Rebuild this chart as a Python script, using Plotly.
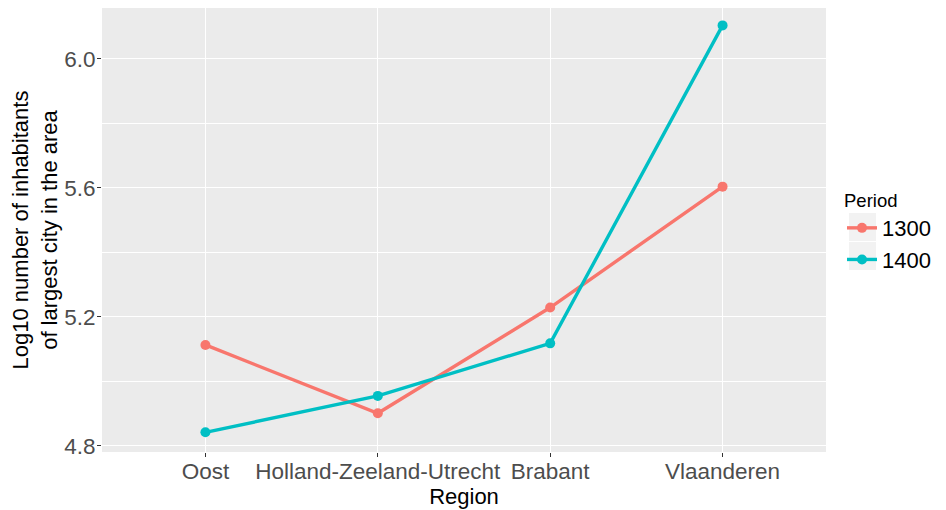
import plotly.graph_objects as go

regions = ["Oost", "Holland-Zeeland-Utrecht", "Brabant", "Vlaanderen"]
period_labels = ["1300", "1400"]
values_1300 = [5.113, 4.901, 5.229, 5.604]
values_1400 = [4.842, 4.955, 5.118, 6.104]
y_ticks = [4.8, 5.2, 5.6, 6.0]

colors = {"1300": "#F8766D", "1400": "#00BFC4"}
series = {"1300": values_1300, "1400": values_1400}

fig = go.Figure()
for p in period_labels:
    fig.add_trace(go.Scatter(
        x=regions, y=series[p], mode="lines+markers", name=p,
        line=dict(color=colors[p], width=3.4),
        marker=dict(color=colors[p], size=10),
    ))

font_family = "Liberation Sans, Arial, sans-serif"
W, H = 938, 502
L, R, T, B = 94, 120, 0, 58
pw, ph = W - L - R, H - T - B


def px_x(x):
    return (x - L) / pw


def px_y(y):
    return 1 - (y - T) / ph


# grey legend key backgrounds (ggplot style)
for y0, y1 in [(205, 233), (234, 262)]:
    fig.add_shape(type="rect", xref="paper", yref="paper",
                  x0=px_x(841), x1=px_x(868), y0=px_y(y1), y1=px_y(y0),
                  fillcolor="#F2F2F2", line=dict(width=0), layer="below")

fig.update_layout(
    width=W, height=H,
    margin=dict(l=L, r=R, t=T, b=B, autoexpand=False),
    paper_bgcolor="white",
    plot_bgcolor="#EBEBEB",
    font=dict(family=font_family, color="black"),
    showlegend=True,
    legend=dict(
        title=dict(text="Period", font=dict(size=18.5, color="black")),
        font=dict(size=22, color="black"),
        x=px_x(834), xanchor="left", y=px_y(175), yanchor="top",
        bgcolor="rgba(0,0,0,0)", itemwidth=30, tracegroupgap=0,
    ),
    xaxis=dict(
        type="category", categoryorder="array", categoryarray=regions,
        range=[-0.6, 3.6], automargin=False,
        showgrid=True, gridcolor="white", gridwidth=1.2,
        zeroline=False, showline=False,
        ticks="outside", ticklen=4, tickcolor="#333333", tickwidth=1,
        ticklabelstandoff=-5,
        tickfont=dict(size=22.5, color="#4D4D4D"),
        title=dict(text="Region", font=dict(size=22, color="black"), standoff=2),
    ),
    yaxis=dict(
        range=[4.781, 6.158], automargin=False,
        tickvals=y_ticks, tickformat=".1f",
        showgrid=True, gridcolor="white", gridwidth=1.2,
        minor=dict(showgrid=True, gridcolor="white", gridwidth=0.6, tick0=5.0, dtick=0.4),
        zeroline=False, showline=False,
        ticks="outside", ticklen=4, tickcolor="#333333", tickwidth=1,
        ticklabelstandoff=-3,
        tickfont=dict(size=22.5, color="#4D4D4D"),
        title=dict(text="Log10 number of inhabitants<br>of largest city in the area",
                   font=dict(size=22, color="black"), standoff=6),
    ),
)

fig.write_html("out.html")
